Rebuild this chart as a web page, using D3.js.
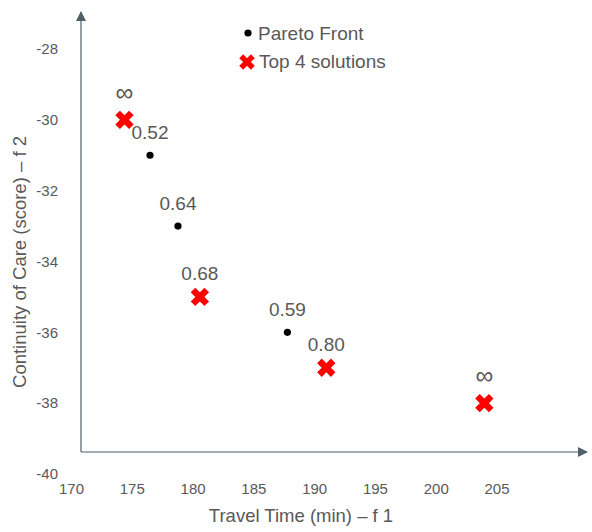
<!DOCTYPE html>
<html>
<head>
<meta charset="utf-8">
<script src="https://cdn.jsdelivr.net/npm/d3@7"></script>
<style>
  html, body { margin: 0; padding: 0; background: #fff; }
  svg text { font-family: "Liberation Sans", Arial, sans-serif; fill: #595959; }
</style>
</head>
<body>
<svg id="chart" width="592" height="532"></svg>
<script>
// Pareto front points (travel time, continuity-of-care score) with their labels
const paretoX = [176.5, 178.8, 187.8];
const paretoY = [-31, -33, -36];
const paretoLabels = ["0.52", "0.64", "0.59"];

// Top 4 solutions
const topX = [174.4, 180.6, 191.0, 204.0];
const topY = [-30, -35, -37, -38];
const topLabels = ["\u221E", "0.68", "0.80", "\u221E"];

const xTicks = [170, 175, 180, 185, 190, 195, 200, 205];
const yTicks = [-28, -30, -32, -34, -36, -38, -40];

const svg = d3.select("#chart");
const axisColor = "#4e5f68";

const x = d3.scaleLinear().domain([170, 205]).range([71, 496.5]);
const y = d3.scaleLinear().domain([-28, -40]).range([49, 474]);

// Arrow marker for the axis lines
svg.append("defs").append("marker")
  .attr("id", "arrow")
  .attr("viewBox", "0 0 10 10")
  .attr("refX", 9).attr("refY", 5)
  .attr("markerWidth", 10).attr("markerHeight", 10)
  .attr("markerUnits", "userSpaceOnUse")
  .attr("orient", "auto")
  .append("path").attr("d", "M0,0 L10,5 L0,10 Z").attr("fill", axisColor);

// Axis lines
svg.append("line").attr("x1", 81).attr("y1", 452).attr("x2", 81).attr("y2", 12)
  .attr("stroke", axisColor).attr("stroke-width", 1.2).attr("marker-end", "url(#arrow)");
svg.append("line").attr("x1", 81).attr("y1", 452).attr("x2", 587).attr("y2", 452)
  .attr("stroke", axisColor).attr("stroke-width", 1.2).attr("marker-end", "url(#arrow)");

// Tick labels (plain hyphen for negatives)
const fmt = d => String(d);
const xAxis = svg.append("g").attr("transform", "translate(0,483)")
  .call(d3.axisBottom(x).tickValues(xTicks).tickFormat(fmt).tickSize(0).tickPadding(0));
xAxis.select(".domain").remove();
xAxis.selectAll("text").style("font-size", "15px").attr("dy", "0.71em");

const yAxis = svg.append("g").attr("transform", "translate(58,0)")
  .call(d3.axisLeft(y).tickValues(yTicks).tickFormat(fmt).tickSize(0).tickPadding(0));
yAxis.select(".domain").remove();
yAxis.selectAll("text").style("font-size", "15px");
svg.selectAll("g").attr("font-family", null).attr("font-size", null);

// Axis titles
svg.append("text").attr("x", 301).attr("y", 522).attr("text-anchor", "middle")
  .style("font-size", "18.5px").text("Travel Time (min) \u2013 f 1");
svg.append("text").attr("transform", "translate(26,262) rotate(-90)")
  .attr("text-anchor", "middle").style("font-size", "18.5px")
  .text("Continuity of Care (score) \u2013 f 2");

// Pareto front dots
const pareto = paretoX.map((v, i) => ({ x: v, y: paretoY[i], label: paretoLabels[i] }));
svg.selectAll("circle.pf").data(pareto).enter().append("circle")
  .attr("class", "pf").attr("cx", d => x(d.x)).attr("cy", d => y(d.y)).attr("r", 3.6)
  .attr("fill", "#000");
svg.selectAll("text.pfl").data(pareto).enter().append("text")
  .attr("class", "pfl").attr("x", d => x(d.x)).attr("y", d => y(d.y) - 16)
  .attr("text-anchor", "middle").style("font-size", "19px").text(d => d.label);

// Top solutions (red crosses)
const cross = d3.symbol().type(d3.symbolCross).size(210);
const topPts = topX.map((v, i) => ({ x: v, y: topY[i], label: topLabels[i] }));
svg.selectAll("path.top").data(topPts).enter().append("path")
  .attr("class", "top").attr("d", cross)
  .attr("transform", d => `translate(${x(d.x)},${y(d.y)}) rotate(45)`)
  .attr("fill", "#ff0000");
svg.selectAll("text.topl").data(topPts).enter().append("text")
  .attr("class", "topl").attr("x", d => x(d.x))
  .attr("y", d => y(d.y) - (d.label === "\u221E" ? 19 : 17))
  .attr("text-anchor", "middle").style("font-size", d => d.label === "\u221E" ? "25px" : "19px")
  .text(d => d.label);

// Legend
const legend = svg.append("g");
legend.append("circle").attr("cx", 248).attr("cy", 33).attr("r", 3.6).attr("fill", "#000");
legend.append("text").attr("x", 258).attr("y", 40).style("font-size", "19px").text("Pareto Front");
legend.append("path").attr("d", d3.symbol().type(d3.symbolCross).size(150))
  .attr("transform", "translate(247,62) rotate(45)").attr("fill", "#ff0000");
legend.append("text").attr("x", 259).attr("y", 68).style("font-size", "19px").text("Top 4 solutions");
</script>
</body>
</html>
